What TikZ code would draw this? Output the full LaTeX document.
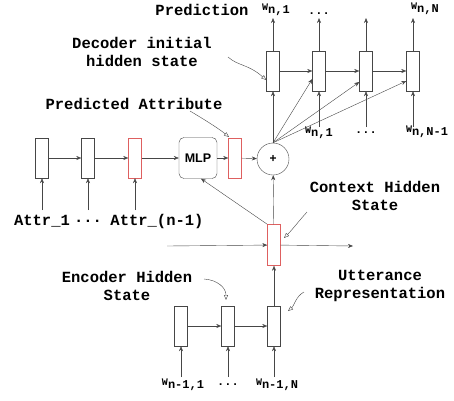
\documentclass[tikz,border=0pt]{standalone}
\usepackage{fontspec}
\setmonofont{Liberation Mono}
\setsansfont{Liberation Sans}
\usetikzlibrary{arrows.meta}
\definecolor{cellred}{RGB}{222,96,96}
\definecolor{linegray}{RGB}{70,70,70}
\newcommand{\wlab}[1]{{\fontsize{10}{10}\selectfont\raisebox{3pt}{W}}{\fontsize{12}{12}\selectfont #1}}
\tikzset{
  cell/.style={draw=linegray,rectangle,minimum width=13pt,minimum height=40pt,inner sep=0pt},
  redcell/.style={cell,draw=cellred},
  lbl/.style={font=\ttfamily\bfseries\fontsize{15.5}{18}\selectfont,align=center,inner sep=0pt},
  wl/.style={font=\ttfamily\bfseries,inner sep=0pt},
  arr/.style={draw=linegray,-{Stealth[length=5pt,width=4pt]}},
  note/.style={draw=linegray,thin,-{Triangle[open,length=5pt,width=4pt]}}
}
\begin{document}
\begin{tikzpicture}[x=1pt,y=-1pt]
\useasboundingbox (0,0) rectangle (454,400);
% decoder
\path[draw]  (273,71)node[cell] (decA) {};
\path[draw]  (319,71)node[cell] (decB) {};
\path[draw]  (366,71)node[cell] (decC) {};
\path[draw]  (413,71)node[cell] (decD) {};
% attributes
\path[draw]  (42,158)node[cell] (attrA) {};
\path[draw]  (88,158)node[cell] (attrB) {};
\path[draw]  (135,158)node[redcell] (attrC) {};
\path[draw]  (198,158)node[draw=linegray,rounded corners=5pt,minimum width=38pt,minimum height=41pt,font=\sffamily\bfseries\fontsize{12.5}{14}\selectfont] (mlp) {MLP};
\path[draw]  (235,158)node[redcell] (pred) {};
\path[draw]  (273,159)node[circle,draw=linegray,minimum size=32pt,inner sep=0pt,font=\sffamily\bfseries\fontsize{12}{14}\selectfont] (plus) {+};
% context and encoder
\path[draw]  (274,245)node[redcell,minimum height=41pt] (ctx) {};
\path[draw]  (181,326)node[cell] (encA) {};
\path[draw]  (228,326)node[cell] (encB) {};
\path[draw]  (274,326)node[cell] (encC) {};
% free ends
\coordinate (outA) at (273,18);
\coordinate (outB) at (319,18);
\coordinate (outC) at (366,18);
\coordinate (outD) at (413,18);
\coordinate (inB) at (319,127);
\coordinate (inC) at (366,127);
\coordinate (inD) at (413,127);
\coordinate (ctxL) at (167,246);
\coordinate (ctxR) at (353,246);
% labels
\node[lbl] (predT) at (202,10) {Prediction};
\node[wl] (wA) at (276,10) {\wlab{n,1}};
\node[wl] (wDots) at (319,14) {\fontsize{12}{12}\selectfont...};
\node[wl] (wN) at (425,9) {\wlab{n,N}};
\node[wl] (wB) at (319,133) {\wlab{n,1}};
\node[wl] (wC) at (366,133) {\fontsize{12}{12}\selectfont...};
\node[wl] (wD) at (427,132) {\wlab{n,N-1}};
\node[lbl] (decT) at (142,52) {Decoder initial\\hidden state};
\node[lbl] (predAttr) at (134,104) {Predicted Attribute};
\node[lbl] (attrT1) at (42,221) {Attr\_1};
\node[lbl] (attrTd) at (88,221) {...};
\node[lbl] (attrTn) at (157,221) {Attr\_(n-1)};
\node[lbl] (ctxT) at (375,196) {Context Hidden\\State};
\node[lbl] (encT) at (127,286) {Encoder Hidden\\State};
\node[lbl] (uttT) at (380,286) {Utterance\\Representation};
\node[wl] (eA) at (183,385) {\wlab{n-1,1}};
\node[wl] (eB) at (228,385) {\fontsize{12}{12}\selectfont...};
\node[wl] (eC) at (277,385) {\wlab{n-1,N}};
% decoder arrows
\draw[arr] (decA) -- (outA);
\draw[arr] (decB) -- (outB);
\draw[arr] (decC) -- (outC);
\draw[arr] (decD) -- (outD);
\draw[arr] (decA) -- (decB);
\draw[arr] (decB) -- (decC);
\draw[arr] (decC) -- (decD);
\draw[arr] (inB) -- (decB);
\draw[arr] (inC) -- (decC);
\draw[arr] (inD) -- (decD);
\draw[arr] (plus.north) -- (decA.south);
\draw[arr] (plus.north) -- ([yshift=-8pt]decB.west);
\draw[arr] (plus.north) -- ([yshift=-11pt]decC.west);
\draw[arr] (plus.north) -- ([yshift=-10pt]decD.west);
% attribute arrows
\draw[arr] (attrA) -- (attrB);
\draw[arr] (attrB) -- (attrC);
\draw[arr] (attrC) -- (mlp);
\draw[arr] (mlp) -- (pred);
\draw[arr] (pred) -- (plus);
\draw[arr] (attrT1.north |- 0,210) -- (attrA);
\draw[arr] (attrB.south |- 0,210) -- (attrB);
\draw[arr] (attrC.south |- 0,210) -- (attrC);
% context arrows
\draw[arr] (ctx) -- (plus);
\draw[arr] (ctx.north west) -- ([xshift=3pt]mlp.south);
\draw[arr] (ctxL) -- (ctx);
\draw[arr] (ctx) -- (ctxR);
% encoder arrows
\draw[arr] (encA) -- (encB);
\draw[arr] (encB) -- (encC);
\draw[arr] (encC) -- (ctx);
\draw[arr] (encA.south |- 0,377) -- (encA);
\draw[arr] (encB.south |- 0,377) -- (encB);
\draw[arr] (encC.south |- 0,377) -- (encC);
% notes
\draw[note] (228,57) .. controls (238,66) and (248,64) .. ([yshift=-9pt]decA.west);
\draw[note] (190,111) .. controls (205,120) and (218,128) .. (229,137);
\draw[note] (307,212) .. controls (298,222) and (292,230) .. (284,238);
\draw[note] (204,279) .. controls (218,280) and (226,288) .. (226,300);
\draw[note] (304,292) .. controls (296,296) and (294,306) .. (288,311);
\end{tikzpicture}
\end{document}
